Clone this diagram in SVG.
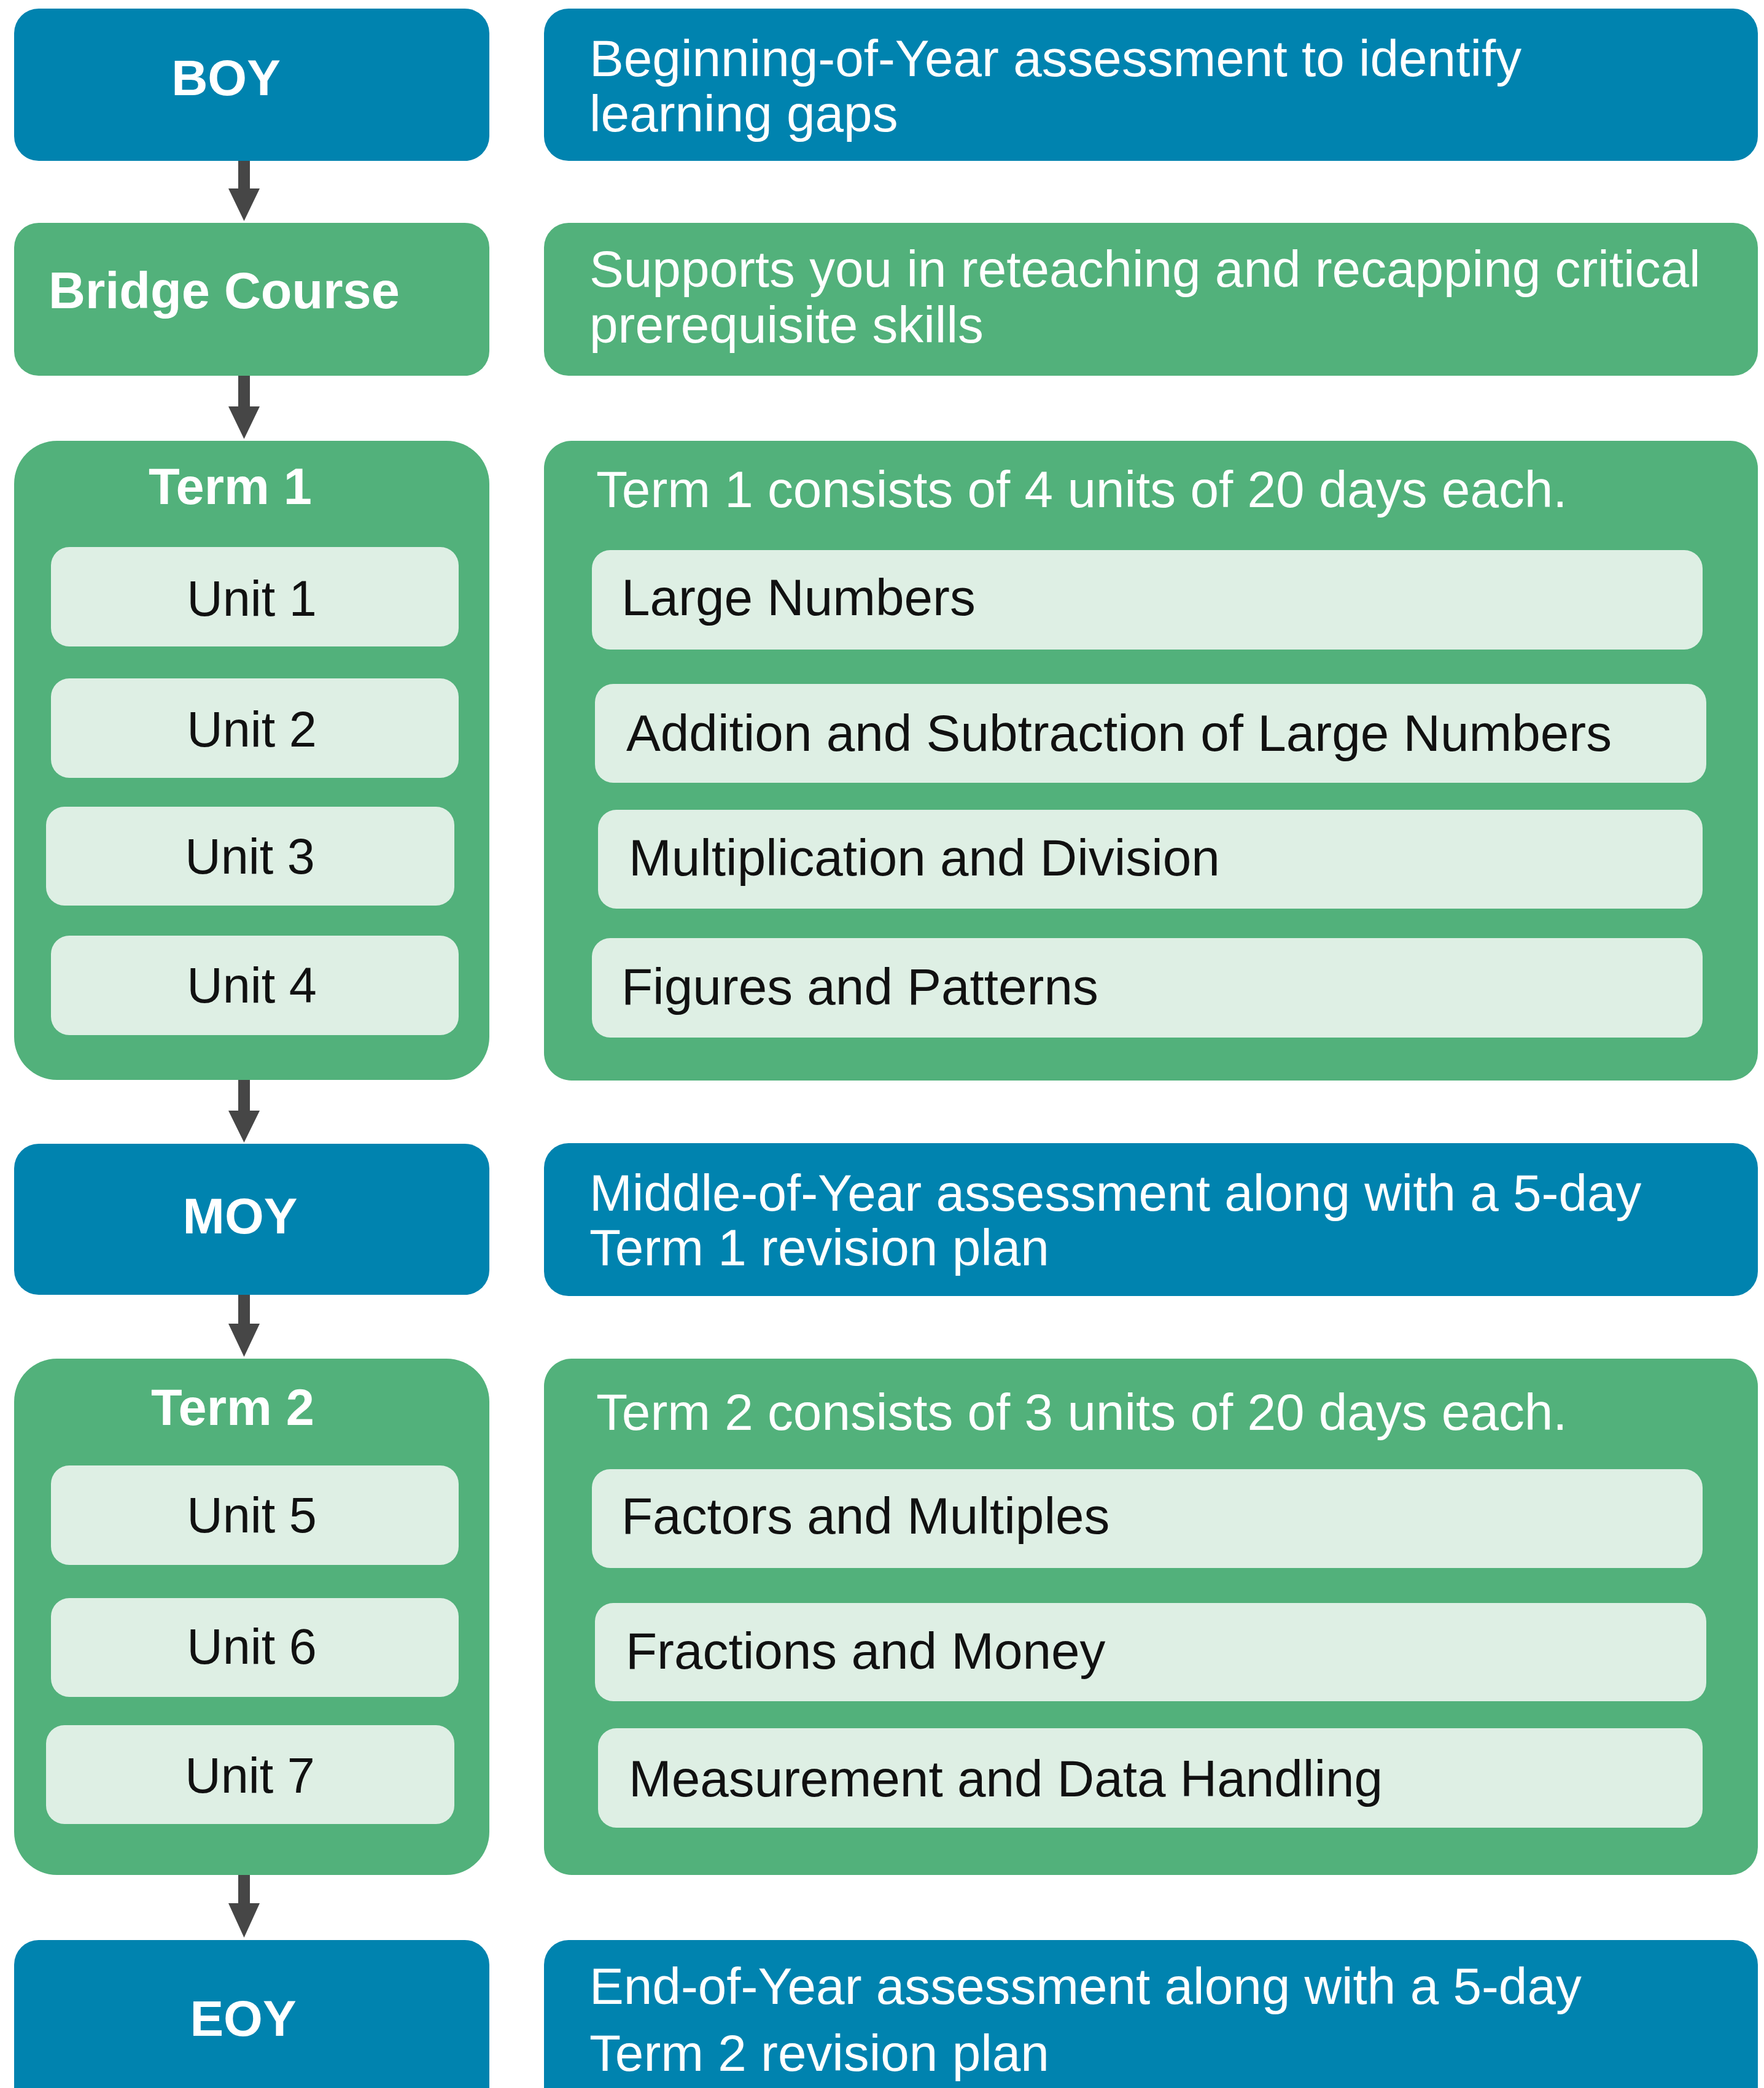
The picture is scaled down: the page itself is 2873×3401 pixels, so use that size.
<svg xmlns="http://www.w3.org/2000/svg" width="2873" height="3401" viewBox="0 0 2873 3401">
<style>
.blue{fill:#0083AF}
.green{fill:#52B17B}
.light{fill:#DEEFE4}
.lbl{font-family:"Liberation Sans",Arial,sans-serif;font-weight:bold;font-size:82px;fill:#FFFFFF}
.desc{font-family:"Liberation Sans",Arial,sans-serif;font-size:83.7px;fill:#FFFFFF}
.unit{font-family:"Liberation Sans",Arial,sans-serif;font-size:81px;fill:#111111;text-anchor:middle}
.topic{font-family:"Liberation Sans",Arial,sans-serif;font-size:83.7px;fill:#111111}
.arrow{fill:#464646}
</style>
<rect width="2873" height="3401" fill="#FFFFFF"/>
<g id="connectors">
<path class="arrow" d="M388 262 H407 V307 H423 L397.5 360 L372 307 H388 Z"/>
<path class="arrow" d="M388 612 H407 V662 H423 L397.5 715 L372 662 H388 Z"/>
<path class="arrow" d="M388 1759 H407 V1809 H423 L397.5 1861 L372 1809 H388 Z"/>
<path class="arrow" d="M388 2109 H407 V2156 H423 L397.5 2210 L372 2156 H388 Z"/>
<path class="arrow" d="M388 3054 H407 V3100 H423 L397.5 3156 L372 3100 H388 Z"/>
</g>
<g id="boy">
<rect class="blue" x="23" y="14" width="774" height="248" rx="40"/>
<text class="lbl" x="368" y="155" text-anchor="middle">BOY</text>
</g>
<g id="boy-desc">
<rect class="blue" x="886" y="14" width="1977" height="248" rx="40"/>
<text class="desc" x="960" y="124">Beginning-of-Year assessment to identify</text>
<text class="desc" x="960" y="214">learning gaps</text>
</g>
<g id="bridge">
<rect class="green" x="23" y="363" width="774" height="249" rx="40"/>
<text class="lbl" x="79" y="502" style="font-size:83px">Bridge Course</text>
</g>
<g id="bridge-desc">
<rect class="green" x="886" y="363" width="1977" height="249" rx="40"/>
<text class="desc" x="960" y="467">Supports you in reteaching and recapping critical</text>
<text class="desc" x="960" y="558">prerequisite skills</text>
</g>
<g id="term1">
<rect class="green" x="23" y="718" width="774" height="1041" rx="70"/>
<text class="lbl" x="375" y="821" text-anchor="middle" style="font-size:83px">Term 1</text>
</g>
<g id="unit1"><rect class="light" x="83" y="891" width="664" height="162" rx="30"/><text class="unit" x="410" y="1003">Unit 1</text></g>
<g id="unit2"><rect class="light" x="83" y="1105" width="664" height="162" rx="30"/><text class="unit" x="410" y="1216">Unit 2</text></g>
<g id="unit3"><rect class="light" x="75" y="1314" width="665" height="161" rx="30"/><text class="unit" x="407" y="1423">Unit 3</text></g>
<g id="unit4"><rect class="light" x="83" y="1524" width="664" height="162" rx="30"/><text class="unit" x="410" y="1633">Unit 4</text></g>
<g id="term1-desc">
<rect class="green" x="886" y="718" width="1977" height="1042" rx="45"/>
<text class="desc" x="971" y="826">Term 1 consists of 4 units of 20 days each.</text>
</g>
<g id="topic1"><rect class="light" x="964" y="896" width="1809" height="162" rx="30"/><text class="topic" x="1012" y="1002">Large Numbers</text></g>
<g id="topic2"><rect class="light" x="969" y="1114" width="1810" height="161" rx="30"/><text class="topic" x="1020" y="1223">Addition and Subtraction of Large Numbers</text></g>
<g id="topic3"><rect class="light" x="974" y="1319" width="1799" height="161" rx="30"/><text class="topic" x="1024" y="1426">Multiplication and Division</text></g>
<g id="topic4"><rect class="light" x="964" y="1528" width="1809" height="162" rx="30"/><text class="topic" x="1012" y="1636">Figures and Patterns</text></g>
<g id="moy">
<rect class="blue" x="23" y="1863" width="774" height="246" rx="40"/>
<text class="lbl" x="391" y="2009" text-anchor="middle">MOY</text>
</g>
<g id="moy-desc">
<rect class="blue" x="886" y="1862" width="1977" height="249" rx="40"/>
<text class="desc" x="960" y="1972">Middle-of-Year assessment along with a 5-day</text>
<text class="desc" x="960" y="2061">Term 1 revision plan</text>
</g>
<g id="term2">
<rect class="green" x="23" y="2213" width="774" height="841" rx="70"/>
<text class="lbl" x="379" y="2321" text-anchor="middle" style="font-size:83px">Term 2</text>
</g>
<g id="unit5"><rect class="light" x="83" y="2387" width="664" height="162" rx="30"/><text class="unit" x="410" y="2496">Unit 5</text></g>
<g id="unit6"><rect class="light" x="83" y="2603" width="664" height="161" rx="30"/><text class="unit" x="410" y="2710">Unit 6</text></g>
<g id="unit7"><rect class="light" x="75" y="2810" width="665" height="161" rx="30"/><text class="unit" x="407" y="2920">Unit 7</text></g>
<g id="term2-desc">
<rect class="green" x="886" y="2213" width="1977" height="841" rx="45"/>
<text class="desc" x="971" y="2329">Term 2 consists of 3 units of 20 days each.</text>
</g>
<g id="topic5"><rect class="light" x="964" y="2393" width="1809" height="161" rx="30"/><text class="topic" x="1012" y="2498">Factors and Multiples</text></g>
<g id="topic6"><rect class="light" x="969" y="2611" width="1810" height="160" rx="30"/><text class="topic" x="1019" y="2718">Fractions and Money</text></g>
<g id="topic7"><rect class="light" x="974" y="2815" width="1799" height="162" rx="30"/><text class="topic" x="1024" y="2926">Measurement and Data Handling</text></g>
<g id="eoy">
<rect class="blue" x="23" y="3160" width="774" height="300" rx="40"/>
<text class="lbl" x="396" y="3316" text-anchor="middle">EOY</text>
</g>
<g id="eoy-desc">
<rect class="blue" x="886" y="3160" width="1977" height="300" rx="40"/>
<text class="desc" x="960" y="3264">End-of-Year assessment along with a 5-day</text>
<text class="desc" x="960" y="3373">Term 2 revision plan</text>
</g>
</svg>
